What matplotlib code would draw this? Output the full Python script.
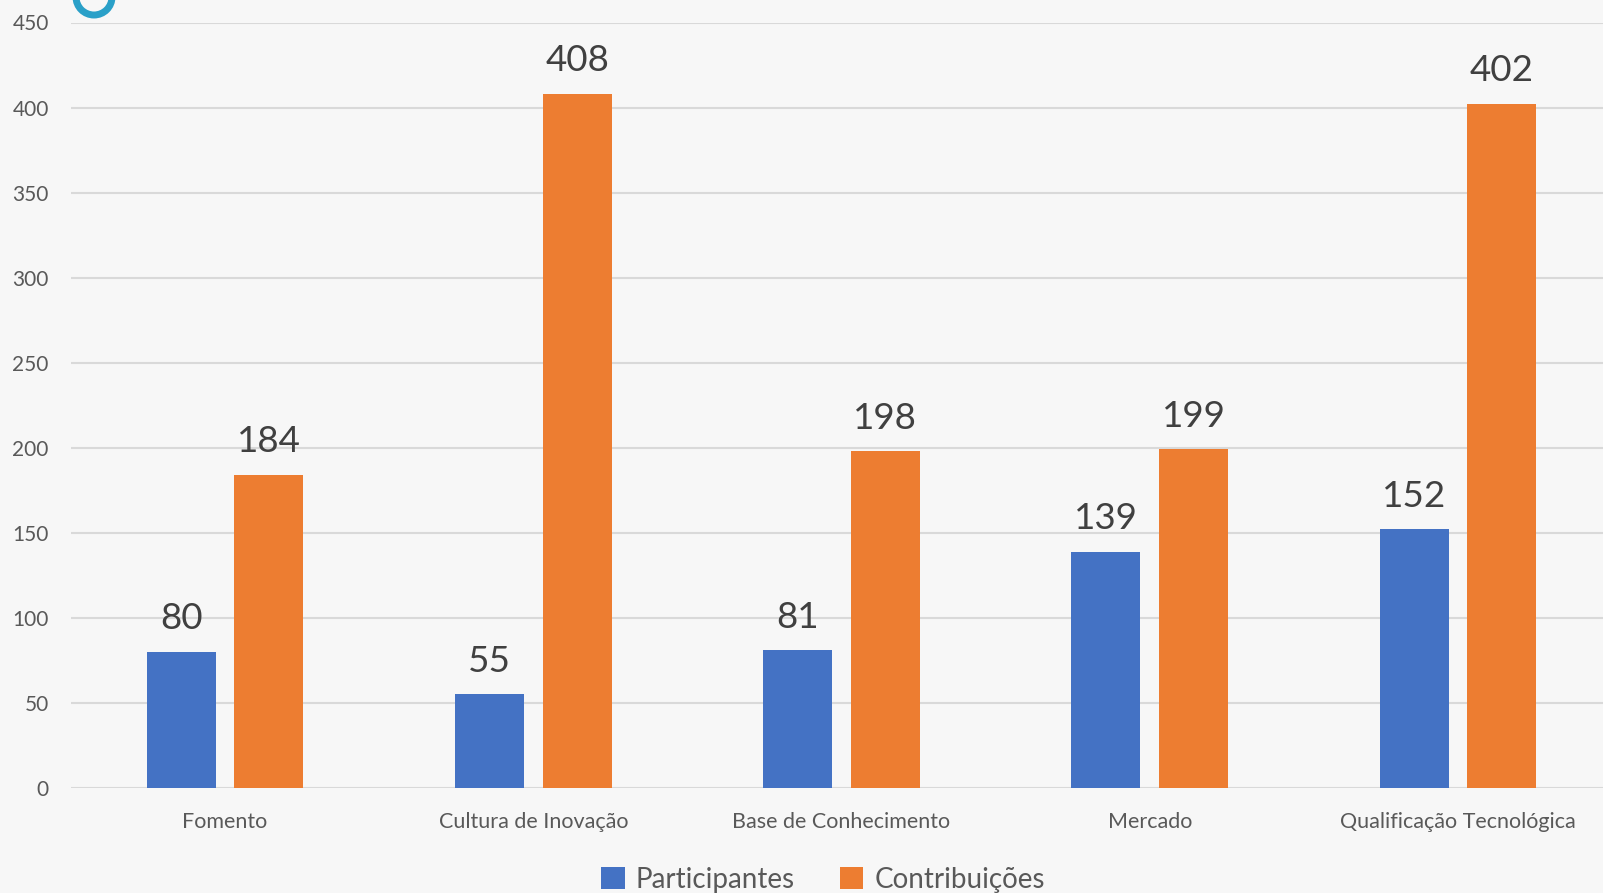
import matplotlib
matplotlib.use("Agg")
import matplotlib.pyplot as plt
import numpy as np
from matplotlib.patches import Ellipse

categories = ["Fomento", "Cultura de Inovação", "Base de Conhecimento", "Mercado", "Qualificação Tecnológica"]
participantes = [80, 55, 81, 139, 152]
contribuicoes = [184, 408, 198, 199, 402]
yticks = [0, 50, 100, 150, 200, 250, 300, 350, 400, 450]

plt.rcParams['font.family'] = ['Lato', 'DejaVu Sans']

W, H = 1603, 893
fig = plt.figure(figsize=(W/100, H/100), dpi=100)
fig.patch.set_facecolor("#f7f7f7")

ax = fig.add_axes([71/W, 1-788/H, 1541/W, (788-22.5)/H])
ax.set_facecolor("none")

x = np.arange(len(categories))
bw = 0.224
off = 0.142
blue = "#4472c4"
orange = "#ed7d31"
b1 = ax.bar(x - off, participantes, bw, color=blue, label="Participantes", zorder=3)
b2 = ax.bar(x + off, contribuicoes, bw, color=orange, label="Contribuições", zorder=3)

for bars, vals in ((b1, participantes), (b2, contribuicoes)):
    for r, v in zip(bars, vals):
        ax.annotate(str(v), (r.get_x() + r.get_width()/2, v), xytext=(0, 12),
                    textcoords="offset points", ha="center", va="bottom",
                    fontsize=26.5, color="#404040")

ax.set_xlim(-0.5, 4.5)
ax.set_ylim(0, 450)
ax.set_yticks(yticks)
ax.set_yticklabels([str(t) for t in yticks])
ax.set_xticks(x)
ax.set_xticklabels(categories)
ax.tick_params(axis="y", length=0, pad=16, labelsize=15, labelcolor="#595959")
ax.tick_params(axis="x", length=0, pad=17.5, labelsize=15.5, labelcolor="#595959")
ax.grid(axis="y", color="#d9d9d9", linewidth=1.5, zorder=0)
for s in ax.spines.values():
    s.set_visible(False)

# partial logo ring at top-left
fig.patches.append(Ellipse((94/W, 1 + 3/H), 36/W, 36/H, transform=fig.transFigure,
                           fill=False, edgecolor="#2aa0c8", linewidth=5))

leg = fig.legend(handles=[b1, b2], loc="center", bbox_to_anchor=(823/W, 1-880/H),
                 ncol=2, frameon=False, fontsize=20, handlelength=0.85, handleheight=0.85,
                 handletextpad=0.4, columnspacing=1.6, labelcolor="#595959")

fig.savefig("out.png", dpi=100, facecolor=fig.get_facecolor())
